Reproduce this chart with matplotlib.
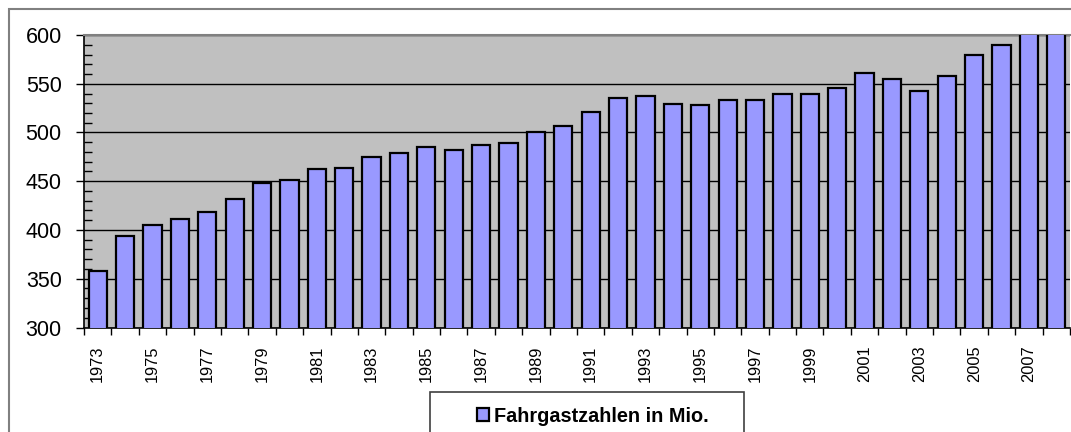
import matplotlib
matplotlib.use("Agg")
import matplotlib.pyplot as plt
from matplotlib.patches import Rectangle
from matplotlib.ticker import MultipleLocator

years = list(range(1973, 2009))
values = [358, 394, 405, 411, 418, 432, 448, 451, 463, 464,
          475, 479, 485, 482, 487, 489, 500, 507, 521, 535,
          537, 529, 528, 533, 533, 539, 540, 546, 561, 555,
          543, 558, 580, 590, 610, 620]
series_label = "Fahrgastzahlen in Mio."

plt.rcParams['font.family'] = ['Liberation Sans', 'DejaVu Sans']

W, H = 1071, 432
fig = plt.figure(figsize=(W / 100, H / 100), dpi=100)
fig.patch.set_facecolor('white')

# outer chart border (extends beyond the cropped image on the right/bottom)
fig.patches.append(Rectangle((9 / W, -0.1), 1.2, 1 - 9 / H + 0.1,
                             transform=fig.transFigure, fill=False,
                             edgecolor='#808080', linewidth=1.5))

left, right, top, bottom = 84, 1070, 35, 327.5
ax = fig.add_axes([left / W, 1 - bottom / H, (right - left) / W, (bottom - top) / H])
ax.set_facecolor('#C0C0C0')

x = list(range(len(years)))
bars = ax.bar(x, values, width=0.667, color='#9999FF', edgecolor='black',
              linewidth=1.6, label=series_label, zorder=3)

ax.set_ylim(300, 600)
ax.set_xlim(-0.5, len(years) - 0.5)

ax.yaxis.set_major_locator(MultipleLocator(50))
ax.yaxis.set_minor_locator(MultipleLocator(10))
ax.grid(axis='y', which='major', color='black', linewidth=1.0, zorder=1)
ax.tick_params(axis='y', which='major', direction='out', length=6, width=1,
               labelsize=15.5, pad=10)
ax.tick_params(axis='y', which='minor', direction='in', length=6, width=1)

# x: tick marks at category boundaries, labels every 2nd year
ax.set_xticks([i - 0.5 for i in range(len(years) + 1)])
ax.set_xticklabels([])
ax.set_xticks(x[::2], minor=True)
ax.set_xticklabels([str(y) for y in years[::2]], minor=True, rotation=90)
ax.tick_params(axis='x', which='major', direction='out', length=5, width=1)
ax.tick_params(axis='x', which='minor', length=0, labelsize=11.8, pad=13)

for s in ['left', 'bottom']:
    ax.spines[s].set_color('black')
    ax.spines[s].set_linewidth(1.2)
ax.spines['top'].set_color('#808080')
ax.spines['top'].set_linewidth(1.5)
ax.spines['right'].set_visible(False)
ax.set_axisbelow(True)

# legend box
fig.patches.append(Rectangle((430 / W, -0.1), (744 - 430) / W, 1 - 392 / H + 0.1,
                             transform=fig.transFigure, facecolor='white',
                             edgecolor='#404040', linewidth=1.2))
leg = fig.legend(handles=[bars], labels=[series_label], loc='center left',
                 bbox_to_anchor=(467 / W, 1 - 416 / H), frameon=False,
                 prop={'weight': 'bold', 'size': 14.3}, handlelength=0.6,
                 handleheight=0.6, handletextpad=0.25, borderpad=0)

fig.savefig('out.png', dpi=100)
